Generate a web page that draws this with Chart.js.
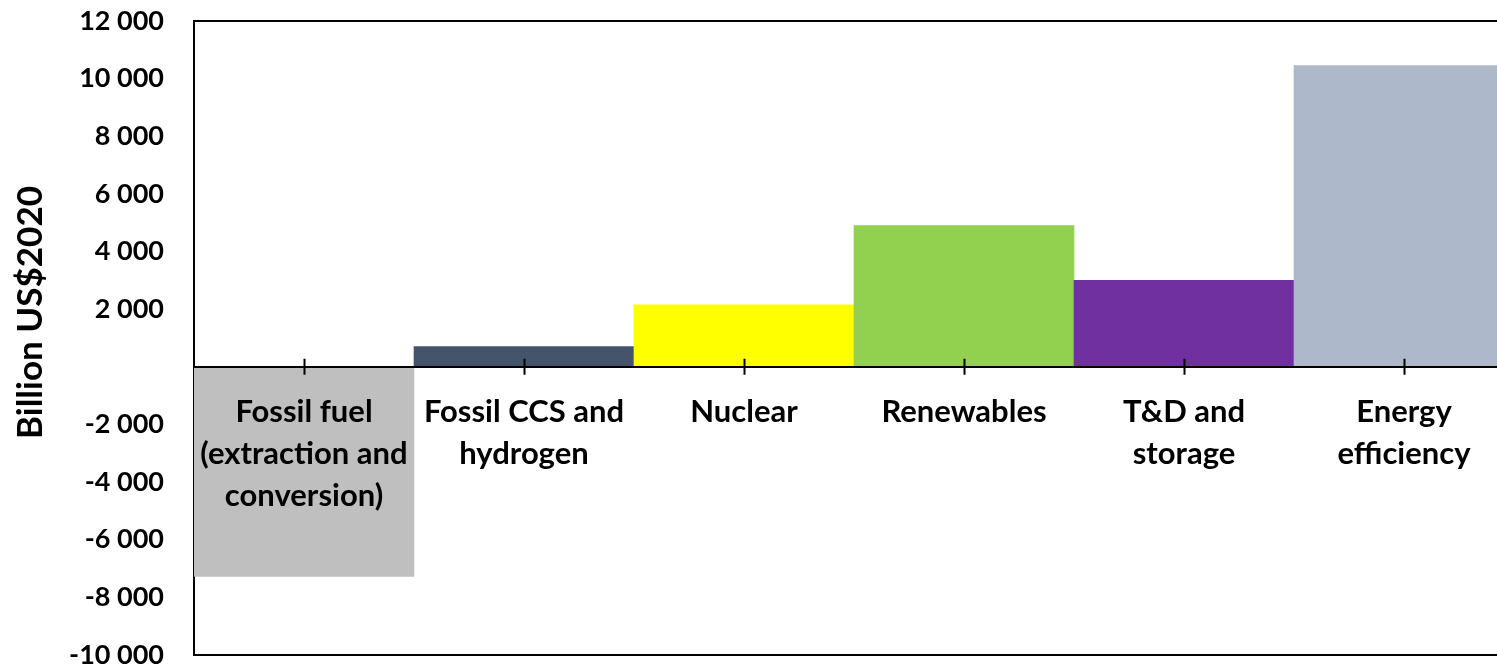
<!DOCTYPE html>
<html>
<head>
<meta charset="utf-8">
<script src="https://cdn.jsdelivr.net/npm/chart.js@4"></script>
<style>
  html, body { margin: 0; padding: 0; background: #fff; overflow: hidden; }
</style>
</head>
<body>
<canvas id="investChart" width="1540" height="680"></canvas>
<script>
// Dados do gráfico
const categories = [
  ["Fossil fuel", "(extraction and", "conversion)"],
  ["Fossil CCS and", "hydrogen"],
  "Nuclear",
  "Renewables",
  ["T&D and", "storage"],
  ["Energy", "efficiency"],
]
const values = [-7270, 700, 2150, 4900, 3000, 10450]
const barColors = ["#bfbfbf", "#44546a", "#ffff00", "#92d050", "#7030a0", "#adb9ca"]
const yTicks = [-10000, -8000, -6000, -4000, -2000, 0, 2000, 4000, 6000, 8000, 10000, 12000]

const Chart = window.Chart
Chart.defaults.font.family = "Lato, 'Open Sans', sans-serif"
Chart.defaults.color = "#000"

function fmt(v) {
  if (v === 0) return ""
  return String(v).replace(/\B(?=(\d{3})+(?!\d))/g, " ")
}

// Moldura e marcas do eixo
const framePlugin = {
  id: "frame",
  beforeDatasetsDraw(chart) {
    const { ctx, chartArea: a } = chart
    ctx.save()
    ctx.strokeStyle = "#000"
    ctx.lineWidth = 2
    ctx.beginPath()
    ctx.moveTo(a.left, a.top)
    ctx.lineTo(a.right, a.top)
    ctx.lineTo(a.right, a.bottom)
    ctx.lineTo(a.left, a.bottom)
    ctx.stroke()
    ctx.restore()
  },
  afterDraw(chart) {
    const { ctx } = chart
    const x = chart.scales.x
    const y0 = chart.scales.y.getPixelForValue(0)
    ctx.save()
    ctx.strokeStyle = "#000"
    ctx.lineWidth = 2
    ctx.beginPath()
    x.ticks.forEach((t, i) => {
      const px = Math.round(x.getPixelForTick(i)) + 0.5
      ctx.moveTo(px, y0 - 8)
      ctx.lineTo(px, y0 + 8)
    })
    ctx.stroke()
    ctx.restore()
  },
}

new Chart(document.getElementById("investChart").getContext("2d"), {
  type: "bar",
  data: {
    labels: categories,
    datasets: [
      {
        data: values,
        backgroundColor: barColors,
        borderWidth: 0,
        barPercentage: 1,
        categoryPercentage: 1,
      },
    ],
  },
  options: {
    responsive: false,
    animation: false,
    layout: { padding: { left: 0, right: 26, top: 21, bottom: 25 } },
    plugins: {
      legend: { display: false },
      tooltip: { enabled: false },
    },
    scales: {
      x: {
        type: "category",
        position: { y: 0 },
        offset: true,
        grid: { display: true, offset: false, drawOnChartArea: false, drawTicks: false },
        border: { color: "#000", width: 2, z: 1 },
        ticks: {
          z: 1,
          autoSkip: false,
          maxRotation: 0,
          padding: 24,
          color: "#000",
          font: { size: 31, weight: "bold", lineHeight: 1.36 },
        },
      },
      y: {
        min: -10000,
        max: 12000,
        afterFit(scale) {
          scale.width = 194
          scale.paddingTop = 0
          scale.paddingBottom = 0
        },
        afterBuildTicks(scale) {
          scale.ticks = yTicks.map((v) => ({ value: v }))
        },
        grid: { display: false, drawTicks: false },
        border: { color: "#000", width: 2 },
        ticks: {
          padding: 30,
          color: "#000",
          font: { size: 27, weight: "bold" },
          callback: (v) => fmt(v),
        },
        title: {
          display: true,
          text: "\u00a0\u00a0\u00a0\u00a0\u00a0\u00a0Billion US$2020",
          color: "#000",
          padding: { top: 10, bottom: 0 },
          font: { size: 35, weight: "bold" },
        },
      },
    },
  },
  plugins: [framePlugin],
})
</script>
</body>
</html>
